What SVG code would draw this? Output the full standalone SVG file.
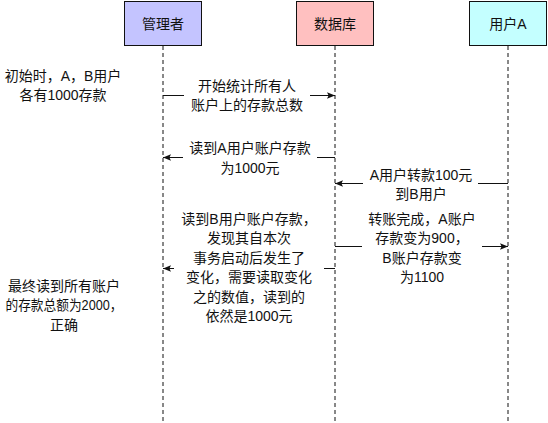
<svg xmlns="http://www.w3.org/2000/svg" width="548" height="423" viewBox="0 0 548 423">
<style>
text{font-family:"Liberation Sans","Noto Sans CJK SC",sans-serif;font-size:14px;fill:#111;text-anchor:middle;dominant-baseline:central}
.box{stroke:#111;stroke-width:1}
.life{stroke:#111;stroke-width:1;stroke-dasharray:4 3;fill:none}
.msg{stroke:#111;stroke-width:1;fill:none}
</style>
<defs>
<marker id="ah" viewBox="0 0 10 10" refX="10" refY="5" markerWidth="8" markerHeight="8" markerUnits="userSpaceOnUse" orient="auto">
<path d="M0,1 L10,5 L0,9 L2,5 Z" fill="#111"/>
</marker>
</defs>
<rect width="548" height="423" fill="#fff"/>
<g id="lifelines">
<line class="life" x1="163" y1="46" x2="163" y2="423"/>
<line class="life" x1="335" y1="46" x2="335" y2="423"/>
<line class="life" x1="508" y1="46" x2="508" y2="423"/>
</g>
<g id="manager">
<rect class="box" x="124.5" y="1.5" width="77" height="44" fill="#C4C4FF"/>
<text x="163" y="24">管理者</text>
</g>
<g id="database">
<rect class="box" x="296.5" y="1.5" width="77" height="44" fill="#FFC0C0"/>
<text x="335" y="24">数据库</text>
</g>
<g id="userA">
<rect class="box" x="469.5" y="1.5" width="77" height="44" fill="#C4FFFF"/>
<text x="508" y="24">用户A</text>
</g>
<g id="connectors">
<line class="msg" x1="163" y1="95.5" x2="184" y2="95.5"/>
<line class="msg" x1="310" y1="95.5" x2="335" y2="95.5" marker-end="url(#ah)"/>
<line class="msg" x1="335" y1="157.5" x2="317" y2="157.5"/>
<line class="msg" x1="183" y1="157.5" x2="163" y2="157.5" marker-end="url(#ah)"/>
<line class="msg" x1="508" y1="183.5" x2="478" y2="183.5"/>
<line class="msg" x1="363" y1="183.5" x2="335" y2="183.5" marker-end="url(#ah)"/>
<line class="msg" x1="335" y1="268.5" x2="324" y2="268.5"/>
<line class="msg" x1="174" y1="268.5" x2="163" y2="268.5" marker-end="url(#ah)"/>
<line class="msg" x1="335" y1="246.5" x2="362" y2="246.5"/>
<line class="msg" x1="482" y1="246.5" x2="508" y2="246.5" marker-end="url(#ah)"/>
</g>
<g id="labels">
<text x="63" y="76">初始时，A，B用户</text>
<text x="63" y="95">各有1000存款</text>
<text x="247" y="86">开始统计所有人</text>
<text x="247" y="105">账户上的存款总数</text>
<text x="250" y="148">读到A用户账户存款</text>
<text x="250" y="168">为1000元</text>
<text x="421" y="175">A用户转款100元</text>
<text x="421" y="194">到B用户</text>
<text x="249" y="219">读到B用户账户存款，</text>
<text x="249" y="238">发现其自本次</text>
<text x="249" y="258">事务启动后发生了</text>
<text x="249" y="277">变化，需要读取变化</text>
<text x="249" y="297">之的数值，读到的</text>
<text x="249" y="316">依然是1000元</text>
<text x="422" y="219">转账完成，A账户</text>
<text x="422" y="238">存款变为900，</text>
<text x="422" y="258">B账户存款变</text>
<text x="422" y="277">为1100</text>
<text x="64" y="286">最终读到所有账户</text>
<text x="64" y="305" textLength="117" lengthAdjust="spacingAndGlyphs">的存款总额为2000，</text>
<text x="64" y="325">正确</text>
</g>
</svg>
